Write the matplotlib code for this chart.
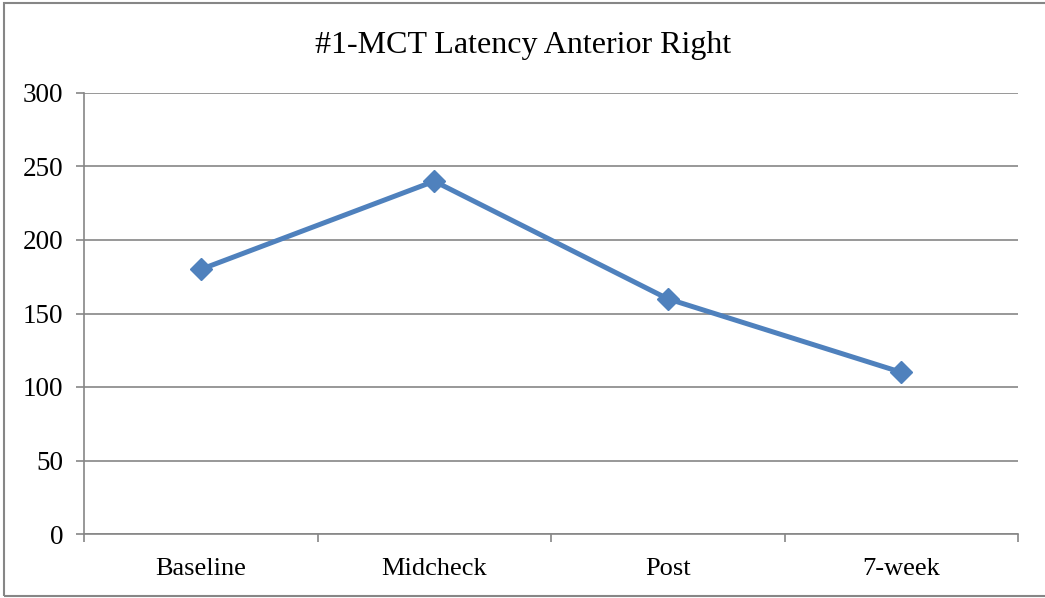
import matplotlib.pyplot as plt
from matplotlib.patches import Rectangle

# Datos
categorias = ['Baseline', 'Midcheck', 'Post', '7-week']
latencia = [180, 240, 160, 110]
yticks = [0, 50, 100, 150, 200, 250, 300]

plt.rcParams['font.family'] = ['Liberation Serif', 'DejaVu Serif']

fig = plt.figure(figsize=(10.45, 5.98), dpi=100)
ax = fig.add_axes([84 / 1045, 1 - 534 / 598, (1018 - 84) / 1045, (534 - 93) / 598])

gris = '#868686'
x = range(len(categorias))
ax.plot(x, latencia, color='#4F81BD', linewidth=3.6, marker='D', markersize=11.5,
        markeredgecolor='#4F81BD', zorder=3)

ax.set_xlim(-0.5, len(categorias) - 0.5)
ax.set_ylim(0, 300)
ax.set_yticks(yticks)
ax.set_yticklabels([str(v) for v in yticks], fontsize=19.5)
ax.set_xticks(list(x))
ax.set_xticklabels(categorias, fontsize=19)
ax.tick_params(axis='x', length=0, pad=17.5)
ax.set_xticks([i - 0.5 for i in range(len(categorias) + 1)], minor=True)
ax.tick_params(axis='x', which='minor', length=6, color=gris, width=1.2)
ax.tick_params(axis='y', length=6, color=gris, width=1.2, pad=9)

ax.grid(axis='y', color=gris, linewidth=1.2)
ax.set_axisbelow(True)
for lado in ['top', 'right']:
    ax.spines[lado].set_visible(False)
for lado in ['left', 'bottom']:
    ax.spines[lado].set_color(gris)
    ax.spines[lado].set_linewidth(1.2)

fig.text(523.5 / 1045, 1 - 46 / 598, '#1-MCT Latency Anterior Right', ha='center', va='center', fontsize=23)

# Borde exterior del gráfico
fig.patches.append(Rectangle((4 / 1045, 1 - 596 / 598), 1.1, 593 / 598, transform=fig.transFigure,
                             fill=False, edgecolor=gris, linewidth=1.5))

fig.savefig('out.png', dpi=100)
